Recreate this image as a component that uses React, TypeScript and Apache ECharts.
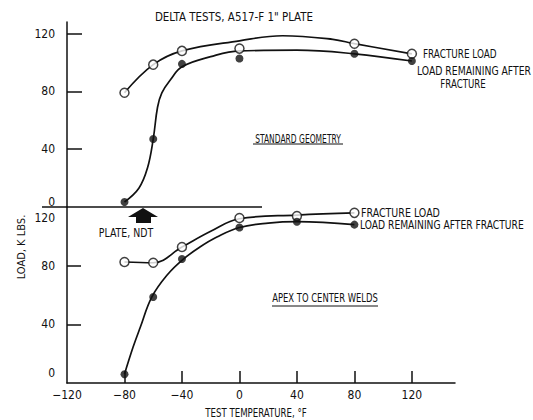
import React, { useEffect, useRef } from "react";
import * as echarts from "echarts";

// Test temperatures (°F) at which specimens were broken
const temps = [-80, -60, -40, 0, 80, 120];
const weldTemps = [-80, -60, -40, 0, 40, 80];

// Standard geometry: measured loads (K lbs)
const stdFracture = [79, 98.5, 108, 109.6, 113, 106];
const stdRemaining = [3.5, 47, 99, 102.7, 106, 101];

// Apex to center welds: measured loads (K lbs)
const weldFracture = [82.5, 82, 92.7, 112.5, 113.8, 116];
const weldRemaining = [6, 58.6, 84.5, 106, 110, 108];

// Faired curves drawn through the test points [temp, load]
const stdFractureCurve = [
  [-80, 79], [-60, 98.5], [-40, 108], [0, 115], [30, 118.5], [65, 116], [80, 113], [120, 106],
];
const stdRemainingCurve = [
  [-80, 3.5], [-70, 13], [-64, 27], [-60, 47], [-57, 69], [-54, 79], [-48, 88], [-40, 97],
  [-20, 104], [0, 108], [40, 108.5], [80, 106], [120, 101],
];
const weldFractureCurve = [
  [-80, 82.5], [-60, 82], [-40, 92.7], [-20, 103.5], [0, 112], [40, 114.5], [80, 116],
];
const weldRemainingCurve = [
  [-80, 6], [-74, 24.5], [-69, 38], [-61, 58.6], [-50, 74], [-39, 84.5], [-27.5, 92.7],
  [-15.7, 99.5], [0, 106], [20, 109], [40, 110], [80, 108],
];

// Axis tick/label positions
const loadLabels = [0, 40, 80, 120];
const stdLoadTicks = [40, 80, 120];
const weldLoadTicks = [40, 80];
const tempLabels = [-120, -80, -40, 0, 40, 80, 120];
const tempTicks = [-80, -40, 0, 40, 80, 120];

const FONT = '"DejaVu Sans Condensed", "DejaVu Sans", sans-serif';
const INK = "#111";

const pairs = (xs: number[], ys: number[]) => xs.map((x, i) => [x, ys[i]]);

export default function App() {
  const ref = useRef<HTMLDivElement>(null);

  useEffect(() => {
    if (!ref.current) return;
    const chart = echarts.init(ref.current, undefined, { renderer: "svg" });

    // condensed lettering: text squeezed horizontally about its anchor
    const txt = (text: string, x: number, y: number, sx: number, extra: any = {}, size = 12) => ({
      type: "text",
      x,
      y,
      scaleX: sx,
      style: {
        text,
        fill: INK,
        font: `${size}px ${FONT}`,
        textAlign: "left",
        textVerticalAlign: "middle",
        ...extra,
      },
    });

    const curve = (name: string, data: number[][], idx: number) => ({
      name,
      type: "line",
      xAxisIndex: idx,
      yAxisIndex: idx,
      data,
      smooth: 0.4,
      showSymbol: false,
      symbol: "none",
      lineStyle: { color: INK, width: 1.7 },
      z: 2,
    });

    const points = (name: string, data: number[][], idx: number, open: boolean) => ({
      name,
      type: "scatter",
      xAxisIndex: idx,
      yAxisIndex: idx,
      data,
      symbol: "circle",
      symbolSize: open ? 9 : 8,
      itemStyle: open
        ? { color: "#fff", borderColor: INK, borderWidth: 1.5 }
        : { color: INK, borderColor: INK, borderWidth: 0 },
      z: 5,
    });

    const richStyle = { fontFamily: FONT, fontSize: 12, color: INK };
    const yLabel = (shift: Record<number, string>) => ({
      customValues: loadLabels,
      color: INK,
      fontFamily: FONT,
      fontSize: 12,
      margin: 12,
      formatter: (v: number) => (shift[v] ? `{${shift[v]}|${v}}` : `${v}`),
      rich: {
        up5: { padding: [0, 0, 10, 0], ...richStyle },
        up10: { padding: [0, 0, 20, 0], ...richStyle },
        down11: { padding: [22, 0, 0, 0], ...richStyle },
      },
    });

    chart.setOption({
      animation: false,
      backgroundColor: "#fff",
      grid: [
        { left: 67, top: 22, width: 388, height: 185 },
        { left: 67, top: 207, width: 388, height: 176 },
      ],
      xAxis: [
        {
          gridIndex: 0,
          type: "value",
          min: -120,
          max: 150,
          axisLine: { show: false },
          axisTick: { show: false },
          axisLabel: { show: false },
          splitLine: { show: false },
        },
        {
          gridIndex: 1,
          type: "value",
          min: -120,
          max: 150,
          axisLine: { show: true, onZero: false, lineStyle: { color: INK, width: 1.5 } },
          axisTick: {
            show: true,
            inside: true,
            length: 12,
            customValues: tempTicks,
            lineStyle: { color: INK, width: 1.5 },
          },
          axisLabel: {
            customValues: tempLabels,
            color: INK,
            fontFamily: FONT,
            fontSize: 12,
            margin: 6,
            formatter: (v: number) => (v < 0 ? `\u2212${-v}` : `${v}`),
          },
          splitLine: { show: false },
        },
      ],
      yAxis: [
        {
          gridIndex: 0,
          type: "value",
          min: 0,
          max: 128,
          axisLine: { show: true, onZero: false, lineStyle: { color: INK, width: 1.5 } },
          axisTick: {
            show: true,
            inside: true,
            length: 15,
            customValues: stdLoadTicks,
            lineStyle: { color: INK, width: 1.5 },
          },
          axisLabel: yLabel({ 0: "up5" }),
          splitLine: { show: false },
        },
        {
          gridIndex: 1,
          type: "value",
          min: 0,
          max: 120,
          axisLine: { show: true, onZero: false, lineStyle: { color: INK, width: 1.5 } },
          axisTick: {
            show: true,
            inside: true,
            length: 14,
            customValues: weldLoadTicks,
            lineStyle: { color: INK, width: 1.5 },
          },
          axisLabel: yLabel({ 0: "up10", 120: "down11" }),
          splitLine: { show: false },
        },
      ],
      series: [
        curve("Fracture load curve", stdFractureCurve, 0),
        curve("Load remaining curve", stdRemainingCurve, 0),
        points("Fracture load", pairs(temps, stdFracture), 0, true),
        points("Load remaining after fracture", pairs(temps, stdRemaining), 0, false),
        curve("Weld fracture load curve", weldFractureCurve, 1),
        curve("Weld load remaining curve", weldRemainingCurve, 1),
        points("Weld fracture load", pairs(weldTemps, weldFracture), 1, true),
        points("Weld load remaining after fracture", pairs(weldTemps, weldRemaining), 1, false),
      ],
      graphic: [
        // baseline of the upper panel
        { type: "line", shape: { x1: 42, y1: 207, x2: 262, y2: 207 }, style: { stroke: INK, lineWidth: 1.4 } },
        txt('DELTA TESTS, A517-F 1" PLATE', 234, 17, 0.88, { textAlign: "center" }, 13),
        txt("FRACTURE LOAD", 423, 54, 0.82),
        txt("LOAD REMAINING AFTER", 417, 71, 0.86),
        txt("FRACTURE", 463, 84, 0.8, { textAlign: "center" }),
        txt("STANDARD GEOMETRY", 298, 138, 0.7, { textAlign: "center" }),
        { type: "line", shape: { x1: 253, y1: 144, x2: 343, y2: 144 }, style: { stroke: INK, lineWidth: 1 } },
        // NDT arrow
        {
          type: "polygon",
          shape: {
            points: [
              [143, 208], [158, 217], [151, 217], [151, 223], [136, 223], [136, 217], [128, 217],
            ],
          },
          style: { fill: INK },
        },
        txt("PLATE, NDT", 126, 233, 0.87, { textAlign: "center" }),
        txt("FRACTURE LOAD", 361, 213, 0.88),
        txt("LOAD REMAINING AFTER FRACTURE", 360, 225, 0.85),
        txt("APEX TO CENTER WELDS", 325, 298, 0.78, { textAlign: "center" }),
        { type: "line", shape: { x1: 272, y1: 306, x2: 378, y2: 306 }, style: { stroke: INK, lineWidth: 1 } },
        {
          type: "text",
          x: 21,
          y: 247,
          rotation: Math.PI / 2,
          style: {
            text: "LOAD, K LBS.",
            fill: INK,
            font: `11px ${FONT}`,
            textAlign: "center",
            textVerticalAlign: "middle",
          },
        },
        txt("TEST TEMPERATURE, \u00B0F", 256, 413, 0.8, { textAlign: "center" }),
      ],
    });

    return () => chart.dispose();
  }, []);

  return (
    <div style={{ position: "absolute", left: 0, top: 0 }}>
      <div ref={ref} style={{ width: 533, height: 420 }} />
    </div>
  );
}
